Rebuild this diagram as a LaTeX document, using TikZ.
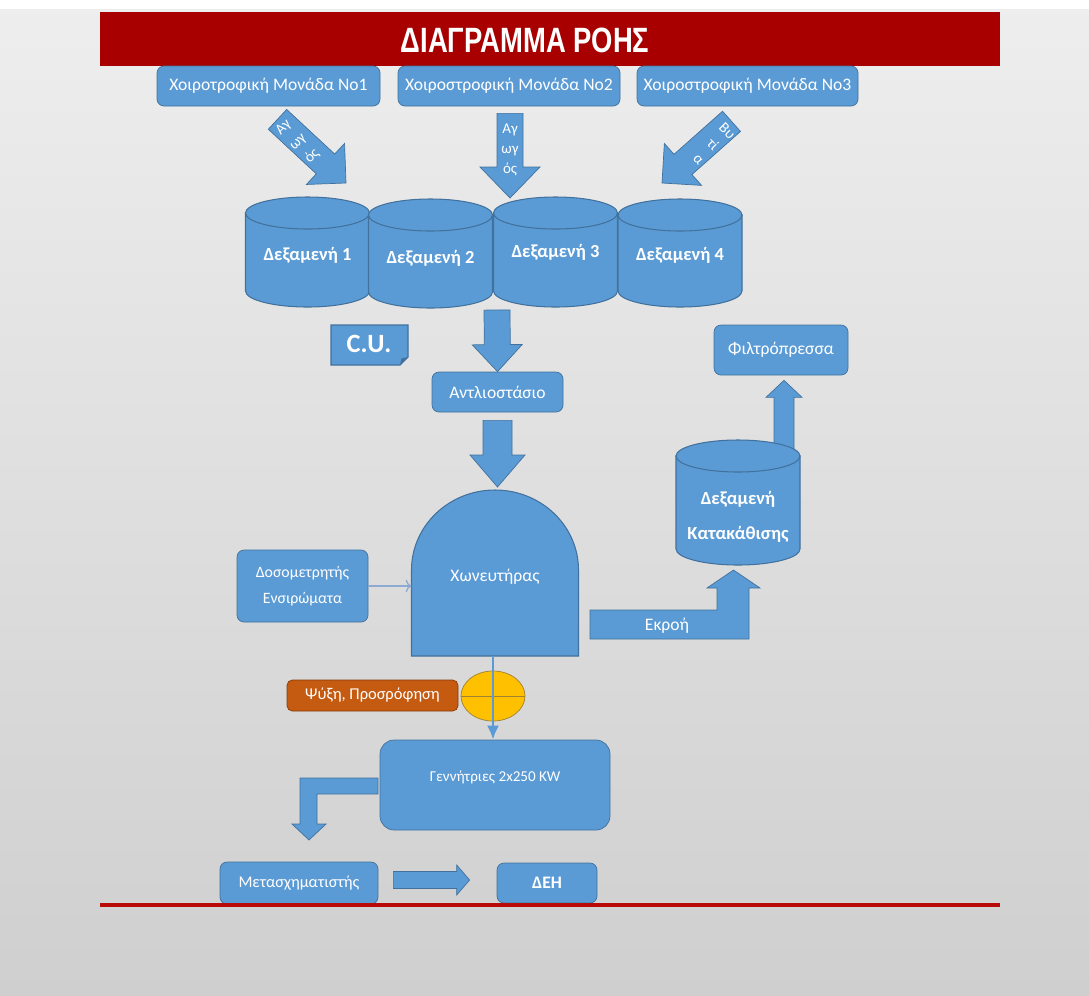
\documentclass[tikz,border=0pt]{standalone}
\usepackage{graphicx}
\usepackage{fontspec}
\setmainfont{Carlito}
\newfontfamily\titlefont{Liberation Sans}
\usetikzlibrary{shapes,arrows,arrows.meta,positioning,calc}
\definecolor{boxblue}{RGB}{91,155,213}
\definecolor{boxedge}{RGB}{65,113,156}
\definecolor{titlered}{RGB}{168,0,0}
\definecolor{redline}{RGB}{185,10,10}
\definecolor{lineblue}{RGB}{143,170,210}
\definecolor{coolorange}{RGB}{197,90,17}
\definecolor{orangeedge}{RGB}{132,60,12}
\definecolor{valvegold}{RGB}{255,192,0}
\definecolor{valveedge}{RGB}{160,130,50}
\definecolor{bgtop}{RGB}{238,238,238}
\definecolor{bgbottom}{RGB}{207,207,207}

\tikzset{
  boxsize/.style 2 args={minimum width=#1*0.02cm, minimum height=#2*0.02cm},
  boxtext/.style={text=white, font=\fontsize{10}{14}\selectfont, align=center, inner sep=0pt},
  unit/.style={boxtext, draw=boxedge, fill=boxblue, rounded corners=4pt},
  tanklabel/.style={text=white, font=\bfseries\fontsize{10.5}{20}\selectfont, align=center},
  tankbody/.style={draw=boxedge, fill=boxblue, line width=0.6pt},
  flowarrow/.style={draw=boxedge, fill=boxblue, line width=0.4pt},
  arrowtext/.style={text=white, font=\fontsize{8.5}{11.5}\selectfont, align=center, inner sep=0pt}
}

% cylinder: name, cx, top, bottom, label y, label
\newcommand{\tank}[6]{%
  \pgfmathsetmacro{\tkL}{#2-62}%
  \pgfmathsetmacro{\tkR}{#2+62}%
  \pgfmathsetmacro{\tkT}{#3+16}%
  \pgfmathsetmacro{\tkB}{#4-16}%
  \filldraw[tankbody] (\tkL,\tkT) -- (\tkL,\tkB)
    .. controls (\tkL,\tkB+8.8) and (#2-34.2,#4) .. (#2,#4)
    .. controls (#2+34.2,#4) and (\tkR,\tkB+8.8) .. (\tkR,\tkB)
    -- (\tkR,\tkT) -- cycle;
  \filldraw[tankbody] (#2,\tkT) ellipse [x radius=1.24cm, y radius=0.32cm];
  \node[tanklabel] (#1) at (#2,#5) {#6};
}

% wide arrow: start, tip, shaft half width, head half width, head length (px)
\newcommand{\blockarrow}[5]{%
  \coordinate (ba) at ($(#2)!#5*0.02cm!(#1)$);
  \filldraw[flowarrow] ($(#1)!#3*0.02cm!90:(#2)$) -- ($(ba)!#3*0.02cm!90:(#2)$)
    -- ($(ba)!#4*0.02cm!90:(#2)$) -- (#2) -- ($(ba)!#4*0.02cm!-90:(#2)$)
    -- ($(ba)!#3*0.02cm!-90:(#2)$) -- ($(#1)!#3*0.02cm!-90:(#2)$) -- cycle;
}

\begin{document}
\begin{tikzpicture}[x=0.02cm, y=-0.02cm]
\shade[top color=bgtop, bottom color=bgbottom] (0,0) rectangle (1089,995);
\fill[white] (0,0) rectangle (1089,9);
\useasboundingbox (0,0) rectangle (1089,995);

% title
\node[fill=titlered, boxsize={900}{54}, inner sep=0pt] (titlebar) at (550,39) {};
\node[text=white, font=\titlefont\bfseries\fontsize{20}{24}\selectfont] (title) at (525,40) {\scalebox{0.78}[1]{ΔΙΑΓΡΑΜΜΑ ΡΟΗΣ}};

% farms
\node[unit, boxsize={223}{40}] (uone) at (268.5,86) {Χοιροτροφική Μονάδα Νο1};
\node[unit, boxsize={222}{40}] (utwo) at (509,86) {Χοιροστροφική Μονάδα Νο2};
\node[unit, boxsize={221}{40}] (uthree) at (747.5,86) {Χοιροστροφική Μονάδα Νο3};

% tanks
\tank{tankone}{307.5}{197}{307}{255}{Δεξαμενή 1}
\tank{tanktwo}{430.5}{199}{308}{258}{Δεξαμενή 2}
\tank{tankthree}{555.5}{197}{307}{252}{Δεξαμενή 3}
\tank{tankfour}{680}{199}{307}{255}{Δεξαμενή 4}

% feeds
\coordinate (feedonestart) at ($(uone.south)+(9,13)$);
\coordinate (feedoneend) at (346,183);
\coordinate (feedtwostart) at ($(utwo.south)+(1,7)$);
\coordinate (feedtwoend) at (510,198);
\coordinate (feedthreestart) at ($(uthree.south)+(-16,15)$);
\coordinate (feedthreeend) at (662,183);
\blockarrow{feedonestart}{feedoneend}{13.5}{28}{28}
\blockarrow{feedtwostart}{feedtwoend}{13}{30}{31}
\blockarrow{feedthreestart}{feedthreeend}{13.5}{28}{28}
\node[arrowtext, rotate=45] (feedonetext) at (298,142) {Αγ\\ωγ\\ός};
\node[arrowtext] (feedtwotext) at (510,150) {Αγ\\ωγ\\ός};
\node[arrowtext, rotate=-45] (feedthreetext) at (713,145) {Βυ\\τί\\α};

% C.U.
\filldraw[tankbody] (331,325) -- (408,325) -- (408,357) -- (400,365) -- (331,365) -- cycle;
\fill[boxedge] (400,365) -- (401.5,358.5) -- (408,357) -- cycle;
\node[boxtext, font=\bfseries\fontsize{15}{18}\selectfont] (cu) at (369,344) {C.U.};

% pumping station
\node[unit, boxsize={131}{40}] (pump) at (497.5,392) {Αντλιοστάσιο};
\coordinate (tanksout) at (497,310);
\blockarrow{tanksout}{pump.north}{13}{25}{27}

% digester
\filldraw[tankbody] (411.5,656) -- (411.5,570) .. controls (411.5,525.8) and (448.9,490) .. (495,490)
  .. controls (541.1,490) and (578.5,525.8) .. (578.5,570) -- (578.5,656) -- cycle;
\node[boxtext] (digester) at (495,577) {Χωνευτήρας};
\coordinate (digtop) at (497.5,487);
\coordinate (digwest) at (411.5,586);
\coordinate (digbottom) at (493,656);
\coordinate (pumpout) at ($(pump.south)+(0,8)$);
\blockarrow{pumpout}{digtop}{14.5}{27.5}{32}

% settling tank and filter press
\node[unit, boxsize={134}{50}] (filter) at (781,350) {Φιλτρόπρεσσα};
\coordinate (settletop) at (784,450);
\coordinate (filterin) at ($(filter.south)+(3,5)$);
\blockarrow{settletop}{filterin}{10}{18}{17}
\tank{settle}{738}{440}{565}{517}{Δεξαμενή\\Κατακάθισης}

% outflow
\filldraw[flowarrow] (590,610) -- (717,610) -- (717,588) -- (707,588) -- (733.5,570)
  -- (760,588) -- (749,588) -- (749,639) -- (590,639) -- cycle;
\node[boxtext] (outflow) at (667,626) {Εκροή};

% dosing
\node[unit, boxsize={131}{72}, font=\fontsize{9}{14.8}\selectfont] (dosing) at (302.5,586) {Δοσομετρητής\\Ενσιρώματα};
\draw[lineblue, line width=0.8pt, ->] (dosing.east) -- (digwest);

% cooling and generators
\node[unit, fill=coolorange, draw=orangeedge, rounded corners=3pt, boxsize={171}{31}, font=\fontsize{9.4}{12}\selectfont] (cooling) at (372.5,695.5) {Ψύξη, Προσρόφηση};
\node[ellipse, draw=valveedge, fill=valvegold, boxsize={64}{50}, inner sep=0pt] (valve) at (493,696) {};
\draw[valveedge] (valve.west) -- (valve.east);
\node[unit, boxsize={230}{90}, rounded corners=8pt] (gen) at (495,785) {};
\node[boxtext, font=\fontsize{8.6}{12}\selectfont] (genlabel) at (495,777) {Γεννήτριες 2x250 KW};
\draw[boxblue, line width=1.7pt, -{Latex[length=8pt,width=7pt]}] (digbottom) -- (digbottom |- gen.north);

% transformer and grid
\filldraw[flowarrow] (378,778) -- (300,778) -- (300,824) -- (292,824) -- (309,840)
  -- (326,824) -- (317,824) -- (317,794) -- (378,794) -- cycle;
\node[unit, boxsize={158}{42}, font=\fontsize{9.3}{12}\selectfont] (trafo) at (299,883) {Μετασχηματιστής};
\node[unit, boxsize={100}{40}, font=\bfseries\fontsize{10}{14}\selectfont] (dei) at (547,883) {ΔΕΗ};
\coordinate (trafoout) at ($(trafo.east)+(15,-3)$);
\coordinate (deiin) at ($(dei.west)+(-27,-3)$);
\blockarrow{trafoout}{deiin}{8.5}{15}{13}

\draw[redline, line width=2.3pt] (100,905) -- (1000,905);
\end{tikzpicture}
\end{document}
